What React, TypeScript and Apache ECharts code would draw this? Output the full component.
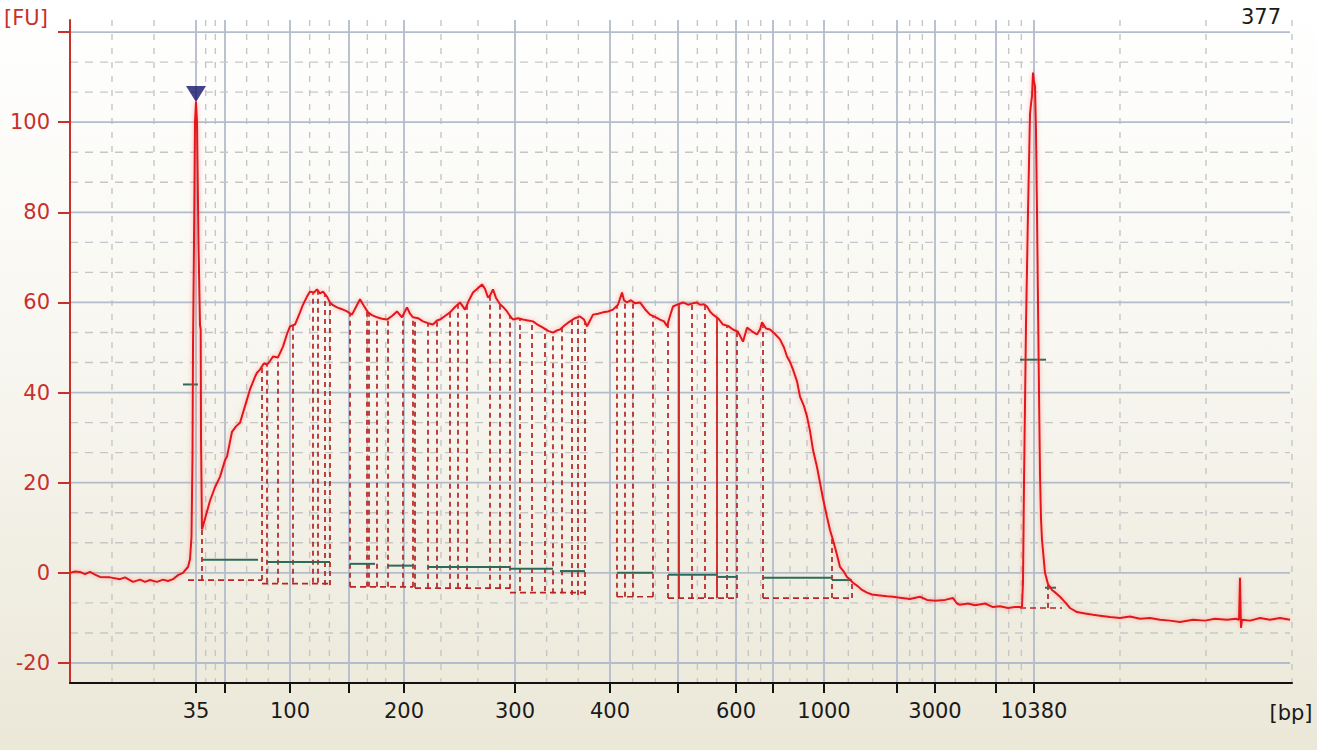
import React, { useEffect, useRef } from 'react';
import * as echarts from 'echarts';

// ---- axis data -------------------------------------------------------
const ladderBp = [35, 50, 100, 150, 200, 300, 400, 500, 600, 700, 1000, 2000, 3000, 7000, 10380];
const ladderTime = [52.6, 55.5, 62.0, 67.9, 73.4, 84.5, 94.0, 100.8, 106.6, 110.3, 115.4, 122.7, 126.5, 132.6, 136.4];
const labeledBp = [35, 100, 200, 300, 400, 600, 1000, 3000, 10380];
const timeRange = [40, 162.2];
const fuRange = [-24.44, 122.67];
const fuTicks = [-20, 0, 20, 40, 60, 80, 100, 120];
const fuLabels = [-20, 0, 20, 40, 60, 80, 100];
const sampleNumber = '377';

// ---- electropherogram trace: [time (s), fluorescence (FU)] ----------
const traceSamples = [
  [40.0, 0], [40.5, 0.3], [41.0, 0.2], [41.5, -0.3], [42.0, 0.2], [42.5, -0.4], [43.0, -0.9], [44.0, -1.0],
  [45.0, -1.4], [45.5, -1.0], [46.3, -2.0], [47.0, -1.5], [47.5, -2.0], [48.0, -1.6], [48.7, -2.0], [49.3, -1.5],
  [49.8, -1.8], [50.3, -1.4], [50.8, -0.5], [51.3, 0], [51.6, 0.8], [51.8, 1.3], [52.0, 3.0], [52.15, 8],
  [52.25, 26], [52.3, 50], [52.4, 73], [52.5, 100], [52.6, 104.5], [52.7, 100], [52.85, 73], [53.0, 55],
  [53.07, 54], [53.1, 30], [53.2, 9.6], [53.5, 12], [54.0, 16], [54.5, 19], [55.0, 21.3], [55.5, 25],
  [55.7, 25.8], [56.2, 31.3], [56.6, 32.5], [57.0, 33.3], [57.5, 37], [58.0, 40.7], [58.5, 43.5], [58.7, 44.4],
  [59.0, 45.1], [59.4, 46.5], [59.7, 46.2], [60.0, 47], [60.3, 48], [60.8, 47.8], [61.3, 50.2], [61.7, 53],
  [62.0, 54.7], [62.5, 55.1], [63.0, 57.8], [63.3, 59.5], [63.7, 61.3], [64.0, 62.4], [64.4, 62.2], [64.7, 62.9],
  [65.0, 62], [65.3, 62.4], [65.7, 61.3], [66.0, 60], [66.3, 59.4], [66.7, 58.9], [67.2, 58.5], [67.7, 58],
  [68.2, 57.3], [68.6, 59], [69.0, 60.7], [69.4, 59.2], [69.8, 57.8], [70.2, 57.2], [70.7, 56.7], [71.2, 56.4],
  [71.7, 56.2], [72.2, 57], [72.7, 58], [73.2, 56.7], [73.7, 58.9], [74.0, 57.5], [74.3, 56.7], [74.8, 56.5],
  [75.3, 55.8], [75.8, 55.4], [76.3, 55.1], [76.7, 56], [77.0, 56.2], [77.5, 57], [78.0, 57.8], [78.5, 59],
  [79.0, 60], [79.5, 58.4], [79.9, 60.5], [80.3, 62.2], [80.7, 63], [81.2, 64], [81.5, 63], [81.8, 61.1],
  [82.0, 61.5], [82.3, 62.9], [82.6, 61], [83.0, 59.6], [83.3, 59], [83.7, 58], [84.0, 57], [84.3, 56.2],
  [84.8, 56.5], [85.3, 56.2], [85.8, 56], [86.3, 55.8], [86.8, 55], [87.3, 54.4], [87.8, 53.7], [88.3, 53.3],
  [88.7, 53.8], [89.0, 54], [89.5, 55], [90.0, 55.8], [90.5, 56.5], [91.0, 56.9], [91.4, 56.2], [91.7, 54.7],
  [92.0, 56], [92.3, 57.3], [92.8, 57.5], [93.3, 57.8], [93.8, 58], [94.3, 58.4], [94.8, 59.5], [95.2, 62.2],
  [95.4, 60.5], [95.7, 60], [96.1, 60.5], [96.5, 59.8], [97.0, 60], [97.5, 58.5], [98.0, 57.3], [98.5, 56.8],
  [99.0, 56.2], [99.4, 55.8], [99.7, 54.7], [100.0, 57], [100.3, 59.1], [100.7, 59.5], [101.3, 60], [101.8, 59.5],
  [102.3, 59.8], [102.7, 60], [103.0, 59.5], [103.4, 59.6], [103.7, 59.1], [104.0, 58], [104.3, 57.3], [104.8, 56.5],
  [105.3, 55.1], [105.8, 54.8], [106.3, 54], [106.8, 53.5], [107.3, 51.3], [107.7, 54.4], [108.2, 53.6], [108.7, 52.9],
  [109.0, 54], [109.2, 55.6], [109.6, 54.2], [110.0, 54], [110.5, 53], [111.0, 51.8], [111.4, 50], [111.7, 48],
  [112.0, 46.8], [112.3, 45.1], [112.7, 42.5], [113.0, 39.1], [113.4, 37], [113.7, 34.7], [114.0, 31.5], [114.3, 27.3],
  [114.7, 23.5], [115.0, 20], [115.3, 16.5], [115.7, 12.4], [116.0, 9.5], [116.3, 7.3], [116.7, 4], [117.0, 1.3],
  [117.4, 0.2], [117.7, -0.9], [118.0, -1.5], [118.3, -2.2], [118.8, -3], [119.2, -3.8], [119.7, -4.4], [120.2, -4.8],
  [121.0, -5.0], [121.7, -5.2], [122.3, -5.3], [123.0, -5.5], [124.0, -5.8], [125.0, -5.3], [125.7, -6.0], [126.5, -6.2],
  [127.5, -6.0], [128.3, -5.6], [128.7, -6.8], [129.0, -7.1], [129.8, -6.8], [130.5, -7.2], [131.5, -6.8], [132.3, -7.6],
  [133.0, -7.4], [133.8, -7.8], [134.5, -7.6], [135.0, -7.6], [135.2, -7.5], [135.3, -2], [135.4, 20], [135.6, 55],
  [135.8, 80], [136.0, 101.8], [136.1, 104], [136.2, 105.8], [136.3, 111], [136.4, 109], [136.5, 108], [136.6, 98],
  [136.7, 80], [136.8, 60], [136.9, 40], [137.0, 22], [137.1, 12], [137.2, 7.3], [137.5, 0], [137.8, -2.5],
  [138.2, -3.8], [138.6, -4.5], [139.0, -5.3], [139.5, -6.5], [140.0, -7.8], [140.7, -8.7], [141.5, -9.0], [142.3, -9.3],
  [143.0, -9.5], [144.0, -9.8], [145.0, -10.0], [146.0, -9.7], [147.0, -10.2], [148.0, -10.0], [149.0, -10.4], [150.0, -10.6],
  [151.0, -10.9], [152.3, -10.4], [153.5, -10.6], [154.5, -10.2], [155.7, -10.4], [156.6, -10.2], [156.9, -10.4], [157.0, -1.1],
  [157.1, -12.2], [157.2, -10.4], [158.0, -10.6], [159.0, -10.0], [160.0, -10.4], [161.0, -10.0], [162.0, -10.4],
];

// ---- peak boundary markers: [time, baseline FU, solid (1) / dashed (0)]
const peakMarkers = [
  [53.2, -1.6, 0], [59.2, -1.6, 0], [59.7, -2.2, 0], [60.8, -2.2, 0], [62.3, -2.2, 0], [64.3, -2.2, 0], [64.8, -2.2, 0],
  [65.5, -2.7, 0], [66.0, -2.7, 0], [68.0, -3.1, 0], [69.7, -3.1, 0], [69.9, -3.1, 0], [70.7, -3.1, 0], [71.8, -3.1, 0],
  [73.3, -3.1, 0], [74.3, -3.1, 0], [74.5, -3.3, 0], [75.8, -3.3, 0], [76.7, -3.3, 0], [78.0, -3.3, 0], [78.8, -3.3, 0],
  [79.7, -3.5, 0], [82.0, -3.5, 0], [83.0, -3.5, 0], [84.0, -3.5, 0], [85.0, -4.0, 0], [86.2, -4.0, 0], [87.5, -4.0, 0],
  [88.3, -4.5, 0], [89.2, -4.5, 0], [90.2, -4.9, 0], [90.8, -4.9, 0], [91.5, -4.9, 0], [94.7, -5.3, 0], [95.5, -5.3, 0],
  [96.3, -5.3, 0], [98.3, -5.3, 0], [99.8, -5.6, 0], [100.9, -5.6, 1], [102.2, -5.6, 0], [103.5, -5.6, 0], [104.7, -5.6, 1],
  [105.7, -5.6, 0], [106.7, -5.6, 0], [109.3, -5.6, 0], [116.2, -5.6, 0], [118.2, -5.6, 0], [137.8, -7.8, 0],
];

// ---- dashed region baselines: [start time, end time, FU]
const regionBaselines = [
  [51.8, 59.2, -1.6], [59.2, 66.0, -2.4], [68.0, 74.3, -3.1], [74.5, 84.0, -3.4], [84.0, 91.5, -4.4],
  [94.7, 98.3, -5.3], [99.8, 106.7, -5.6], [109.3, 118.2, -5.6], [135.0, 139.2, -7.8],
];

// ---- peak width bars (green): [start time, end time, FU]
const peakWidthBars = [
  [51.3, 52.8, 41.8], [53.3, 58.8, 2.9], [59.7, 66.0, 2.4], [68.0, 70.5, 2.0], [71.8, 74.3, 1.6], [75.8, 84.0, 1.3],
  [84.0, 88.3, 0.9], [89.0, 91.5, 0.4], [94.7, 98.3, 0.0], [99.8, 104.7, -0.4], [104.7, 106.7, -0.9],
  [109.3, 116.2, -1.1], [116.2, 118.2, -1.6], [135.0, 137.6, 47.3], [137.5, 138.6, -3.3],
];

// lower marker (35 bp) flag
const lowerMarker = [[52.6, 104.5]];

const FONT = 'DejaVu Sans';

function curveAt(t: number): number {
  for (let i = 1; i < traceSamples.length; i++) {
    const [t0, v0] = traceSamples[i - 1];
    const [t1, v1] = traceSamples[i];
    if (t >= t0 && t <= t1) {
      return t1 === t0 ? v1 : v0 + ((v1 - v0) * (t - t0)) / (t1 - t0);
    }
  }
  return 0;
}

function buildGridLines() {
  const lines: number[][] = [];
  // [orientation 0=vertical 1=horizontal, value, dashed]
  ladderTime.forEach((t) => lines.push([0, t, 0]));
  const bounds = [timeRange[0], ...ladderTime, timeRange[1]];
  for (let i = 0; i < bounds.length - 1; i++) {
    const a = bounds[i];
    const b = bounds[i + 1];
    for (let k = 1; k < 3; k++) lines.push([0, a + ((b - a) * k) / 3, 1]);
  }
  lines.push([0, timeRange[1], 1]);
  fuTicks.forEach((v) => lines.push([1, v, 0]));
  for (let i = 0; i < fuTicks.length - 1; i++) {
    const a = fuTicks[i];
    const b = fuTicks[i + 1];
    for (let k = 1; k < 3; k++) lines.push([1, a + ((b - a) * k) / 3, 1]);
  }
  return lines;
}

export default function App() {
  const ref = useRef<HTMLDivElement>(null);

  useEffect(() => {
    if (!ref.current) return;
    const chart = echarts.init(ref.current, null, { renderer: 'svg' });

    const gridLines = buildGridLines();
    const markerData = peakMarkers.map(([t, base, solid]) => [t, base, curveAt(t), solid]);
    const labeledTimes = ladderTime.filter((_, i) => labeledBp.includes(ladderBp[i]));

    const option: any = {
      animation: false,
      grid: { left: 70, right: 25, top: 20, bottom: 67, containLabel: false },
      xAxis: {
        type: 'value',
        min: timeRange[0],
        max: timeRange[1],
        axisLine: { show: true, onZero: false, lineStyle: { color: '#111111', width: 2 } },
        axisTick: { show: true, length: 10, lineStyle: { color: '#111111', width: 2 }, customValues: ladderTime },
        axisLabel: {
          customValues: labeledTimes,
          margin: 17,
          color: '#1a1a1a',
          fontFamily: FONT,
          fontSize: 21,
          formatter: (v: number) => {
            const idx = ladderTime.findIndex((t) => Math.abs(t - v) < 1e-6);
            return idx >= 0 ? String(ladderBp[idx]) : '';
          },
        },
        splitLine: { show: false },
      },
      yAxis: {
        type: 'value',
        min: fuRange[0],
        max: fuRange[1],
        axisLine: { show: true, onZero: false, lineStyle: { color: '#c8302c', width: 2 } },
        axisTick: { show: true, length: 12, lineStyle: { color: '#c8302c', width: 2 }, customValues: fuTicks },
        axisLabel: {
          customValues: fuLabels,
          margin: 20,
          color: '#c8302c',
          fontFamily: FONT,
          fontSize: 21,
        },
        splitLine: { show: false },
      },
      graphic: [
        { type: 'text', left: 4, top: 7, style: { text: '[FU]', fill: '#c8302c', font: `21px "${FONT}"` } },
        { type: 'text', x: 1281, y: 17, style: { text: sampleNumber, fill: '#1a1a1a', font: `21px "${FONT}"`, align: 'right', verticalAlign: 'middle' } },
        { type: 'text', x: 1291, y: 713, style: { text: '[bp]', fill: '#1a1a1a', font: `21px "${FONT}"`, align: 'center', verticalAlign: 'middle' } },
      ],
      series: [
        {
          type: 'custom',
          name: 'grid',
          silent: true,
          z: 0,
          data: gridLines,
          renderItem: (params: any, api: any) => {
            const cs = params.coordSys;
            const orient = api.value(0);
            const val = api.value(1);
            const dashed = api.value(2) === 1;
            const style = dashed
              ? { stroke: '#c6c6c6', lineWidth: 1.4, lineDash: orient === 0 ? [6, 8] : [8, 7] }
              : { stroke: '#b3bccb', lineWidth: 1.8 };
            if (orient === 0) {
              const x = api.coord([val, 0])[0];
              return { type: 'line', shape: { x1: x, y1: cs.y, x2: x, y2: cs.y + cs.height }, style };
            }
            const y = api.coord([timeRange[0], val])[1];
            return { type: 'line', shape: { x1: cs.x, y1: y, x2: cs.x + cs.width - 2, y2: y }, style };
          },
        },
        {
          type: 'custom',
          name: 'baselines',
          silent: true,
          z: 2,
          data: regionBaselines,
          renderItem: (_p: any, api: any) => {
            const a = api.coord([api.value(0), api.value(2)]);
            const b = api.coord([api.value(1), api.value(2)]);
            return {
              type: 'line',
              shape: { x1: a[0], y1: a[1], x2: b[0], y2: b[1] },
              style: { stroke: '#bb2424', lineWidth: 1.7, lineDash: [6, 4] },
            };
          },
        },
        {
          type: 'custom',
          name: 'markers',
          silent: true,
          z: 2,
          data: markerData,
          renderItem: (_p: any, api: any) => {
            const a = api.coord([api.value(0), api.value(1)]);
            const b = api.coord([api.value(0), api.value(2)]);
            const solid = api.value(3) === 1;
            return {
              type: 'line',
              shape: { x1: a[0], y1: a[1], x2: b[0], y2: b[1] },
              style: solid
                ? { stroke: '#d21f1f', lineWidth: 1.8 }
                : { stroke: '#b52222', lineWidth: 1.7, lineDash: [5, 4] },
            };
          },
        },
        {
          type: 'custom',
          name: 'widths',
          silent: true,
          z: 3,
          data: peakWidthBars,
          renderItem: (_p: any, api: any) => {
            const a = api.coord([api.value(0), api.value(2)]);
            const b = api.coord([api.value(1), api.value(2)]);
            return {
              type: 'line',
              shape: { x1: a[0], y1: a[1], x2: b[0], y2: b[1] },
              style: { stroke: '#2d6b58', lineWidth: 2 },
            };
          },
        },
        {
          type: 'line',
          name: 'trace',
          data: traceSamples,
          showSymbol: false,
          symbol: 'none',
          z: 5,
          lineStyle: { color: '#e3161b', width: 2, shadowColor: 'rgba(255,90,90,0.55)', shadowBlur: 4 },
        },
        {
          type: 'scatter',
          name: 'lower marker',
          data: lowerMarker,
          symbol: 'triangle',
          symbolRotate: 180,
          symbolSize: [20, 16],
          symbolOffset: [0, -8],
          itemStyle: { color: '#15156b' },
          z: 6,
        },
      ],
    };

    chart.setOption(option);
    return () => chart.dispose();
  }, []);

  return (
    <div
      ref={ref}
      style={{
        position: 'absolute',
        left: 0,
        top: 0,
        width: 1317,
        height: 750,
        background: 'linear-gradient(to bottom, #ffffff 0%, #f8f7f1 45%, #ebe8d8 100%)',
      }}
    />
  );
}
